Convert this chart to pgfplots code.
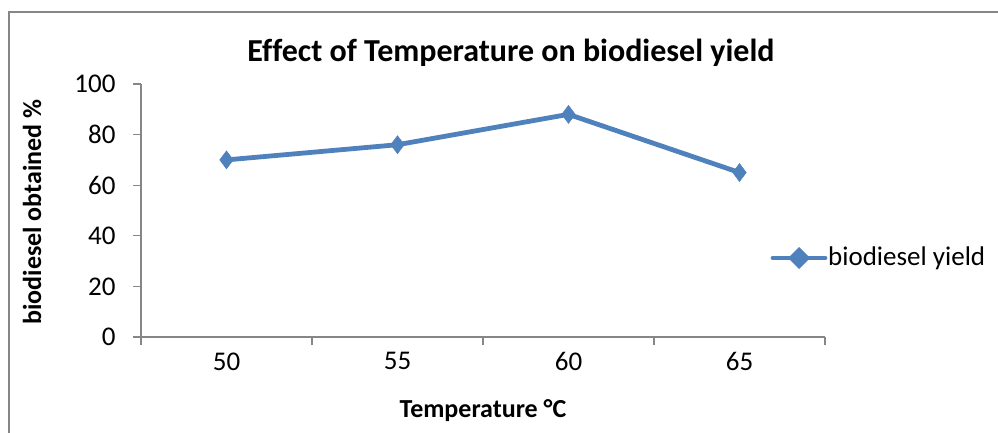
\documentclass[border=0pt]{standalone}
\usepackage{fontspec}
\setmainfont{Carlito}[Ligatures=NoCommon]
\usepackage{pgfplots}
\pgfplotsset{compat=1.18}
\definecolor{serblue}{HTML}{4F81BD}
\definecolor{axgray}{HTML}{868686}
\begin{document}
\begin{tikzpicture}[x=1pt,y=1pt]
\useasboundingbox (0,0) rectangle (998,432);
\draw[axgray,line width=1.2pt] (9,-5) -- (9,420) -- (1005,420);
\begin{axis}[
  at={(141pt,95pt)}, anchor=south west,
  scale only axis, width=684pt, height=253pt,
  xmin=0, xmax=4, ymin=0, ymax=100,
  axis lines*=left,
  axis line style={axgray,line width=1.2pt},
  xtick={0,1,2,3,4}, xticklabels={},
  extra x ticks={0.5,1.5,2.5,3.5},
  extra x tick labels={50,55,60,65},
  extra x tick style={major tick length=0pt},
  ytick={0,20,40,60,80,100},
  tick style={axgray,line width=1.2pt},
  major tick length=8pt,
  tick align=outside,
  /pgf/number format/assume math mode=true,
  ticklabel style={font=\fontsize{27}{30}\selectfont, text=black},
  yticklabel style={xshift=-14pt},
  xticklabel style={yshift=-12pt},
  clip=false,
]
\addplot[serblue, line width=4.8pt, mark=diamond*, mark size=9pt,
  mark options={solid, fill=serblue, draw=serblue, line width=0.5pt}]
  coordinates {(0.5,70) (1.5,76) (2.5,88) (3.5,65)};
\end{axis}
\node[font=\bfseries\fontsize{32}{36}\selectfont] at (511,379) {Effect of Temperature on biodiesel yield};
\node[font=\bfseries\fontsize{26}{30}\selectfont, rotate=90] at (32,220) {biodiesel obtained \%};
\node[font=\bfseries\fontsize{26}{30}\selectfont] at (483,21) {Temperature °C};
\draw[serblue, line width=4.8pt, line cap=round] (773,174) -- (825,174);
\fill[serblue] (799,185) -- (810,174) -- (799,163) -- (788,174) -- cycle;
\node[anchor=west, font=\fontsize{27}{30}\selectfont, inner sep=0pt] at (828,174) {biodiesel yield};
\end{tikzpicture}
\end{document}
